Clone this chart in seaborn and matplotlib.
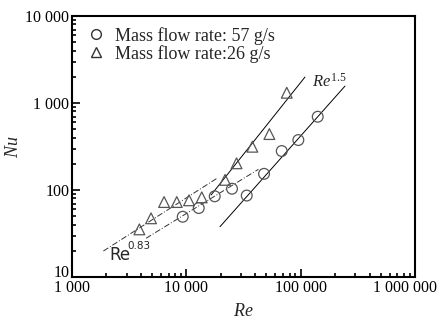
import numpy as np
import pandas as pd
import seaborn as sns
import matplotlib
matplotlib.use("Agg")
import matplotlib.pyplot as plt
import matplotlib.transforms as mtransforms
from matplotlib.ticker import FuncFormatter, LogLocator, NullFormatter
from matplotlib.lines import Line2D

# --- data ---
re_57 = [9290, 12830, 17700, 25070, 33730, 47790, 68240, 95350, 140900]
nu_57 = [49.3, 62.1, 84.7, 103.5, 86.4, 153.5, 280.6, 375.5, 696]
re_26 = [3880, 4910, 6380, 8240, 10550, 13630, 21800, 27470, 37760, 53200, 75500]
nu_26 = [35.3, 47.3, 72.8, 72.8, 76.2, 82.4, 130.9, 202.8, 314.5, 440, 1313]

# fit lines (end points)
fit15_26_re = [16440, 109000]
fit15_26_nu = [87.7, 1990]
fit15_57_re = [19680, 244000]
fit15_57_nu = [37.9, 1567]
fit083_26_re = [1880, 18450]
fit083_26_nu = [19.9, 136]
fit083_57_re = [4440, 42650]
fit083_57_nu = [27.9, 173]

labels = ["Mass flow rate: 57 g/s", "Mass flow rate:26 g/s"]

df = pd.DataFrame({
    "Re": re_57 + re_26,
    "Nu": nu_57 + nu_26,
    "series": [labels[0]] * len(re_57) + [labels[1]] * len(re_26),
})

sns.set_style("ticks")
plt.rcParams["font.family"] = ["Liberation Serif", "DejaVu Serif"]
plt.rcParams["mathtext.fontset"] = "custom"
plt.rcParams["mathtext.it"] = "Liberation Serif:italic"
plt.rcParams["mathtext.rm"] = "Liberation Serif"

fig = plt.figure(figsize=(4.42, 3.21), dpi=100)
ax = fig.add_axes([0.163, 0.137, 0.776, 0.813])

sns.scatterplot(data=df, x="Re", y="Nu", style="series",
                markers={labels[0]: "o", labels[1]: "^"},
                s=60, facecolor="none", edgecolor="#555555", linewidth=0.9,
                ax=ax, legend=False, zorder=3)

line_kw = dict(color="black", linewidth=0.7, ax=ax, legend=False)
sns.lineplot(x=fit15_26_re, y=fit15_26_nu, **line_kw)
sns.lineplot(x=fit15_57_re, y=fit15_57_nu, **line_kw)
sns.lineplot(x=fit083_26_re, y=fit083_26_nu, linestyle=(0, (6, 2, 1, 2)),
             color="#333333", linewidth=0.7, ax=ax, legend=False)
sns.lineplot(x=fit083_57_re, y=fit083_57_nu, linestyle=(0, (6, 2, 1, 2)),
             color="#333333", linewidth=0.7, ax=ax, legend=False)

ax.set_xscale("log")
ax.set_yscale("log")
ax.set_xlim(1000, 1e6)
ax.set_ylim(10, 1e4)

fmt = FuncFormatter(lambda v, p: f"{int(round(v)):,}".replace(",", " "))
ax.xaxis.set_major_formatter(fmt)
ax.yaxis.set_major_formatter(fmt)
ax.xaxis.set_major_locator(LogLocator(base=10, numticks=10))
ax.yaxis.set_major_locator(LogLocator(base=10, numticks=10))
ax.xaxis.set_minor_locator(LogLocator(base=10, subs=np.arange(2, 10), numticks=20))
ax.yaxis.set_minor_locator(LogLocator(base=10, subs=np.arange(2, 10), numticks=20))
ax.xaxis.set_minor_formatter(NullFormatter())
ax.yaxis.set_minor_formatter(NullFormatter())

ax.tick_params(which="both", direction="in", top=False, right=False,
               labelsize=11.5, colors="black", width=1.2)
ax.tick_params(which="major", length=6, pad=2)
ax.tick_params(which="minor", length=3)
for s in ax.spines.values():
    s.set_linewidth(1.5)
    s.set_color("black")

ax.set_xlabel("$Re$", fontsize=13, labelpad=5)
ax.set_ylabel("$Nu$", fontsize=13, labelpad=2)

ax.text(0.70, 0.747, r"$Re^{1.5}$", transform=ax.transAxes, fontsize=12,
        va="center", ha="left")
ax.text(0.108, 0.085, "Re", transform=ax.transAxes, fontsize=12,
        family="DejaVu Sans", va="center", ha="left")
ax.text(0.162, 0.12, "0.83", transform=ax.transAxes, fontsize=7.5,
        family="DejaVu Sans", va="center", ha="left")

handles = [
    Line2D([], [], marker="o", linestyle="none", markerfacecolor="none",
           markeredgecolor="#333333", markersize=7),
    Line2D([], [], marker="^", linestyle="none", markerfacecolor="none",
           markeredgecolor="#333333", markersize=7),
]
ax.legend(handles, labels, loc="upper left", frameon=False, fontsize=13,
          handletextpad=0.3, labelspacing=0.0, borderaxespad=0.2,
          handlelength=1.5)

fig.canvas.draw()
# shift the last x tick label left so that it fits, as in the reference
for lab in ax.get_xticklabels():
    if lab.get_text().startswith("1 000 000"):
        lab.set_transform(lab.get_transform() +
                          mtransforms.ScaledTranslation(-10 / 100, 0, fig.dpi_scale_trans))
# lift the lowest y tick label a little so it clears the first x tick label
for lab in ax.get_yticklabels():
    if lab.get_text() == "10":
        lab.set_transform(lab.get_transform() +
                          mtransforms.ScaledTranslation(0, 6 / 100, fig.dpi_scale_trans))

fig.savefig("out.png", dpi=100)
